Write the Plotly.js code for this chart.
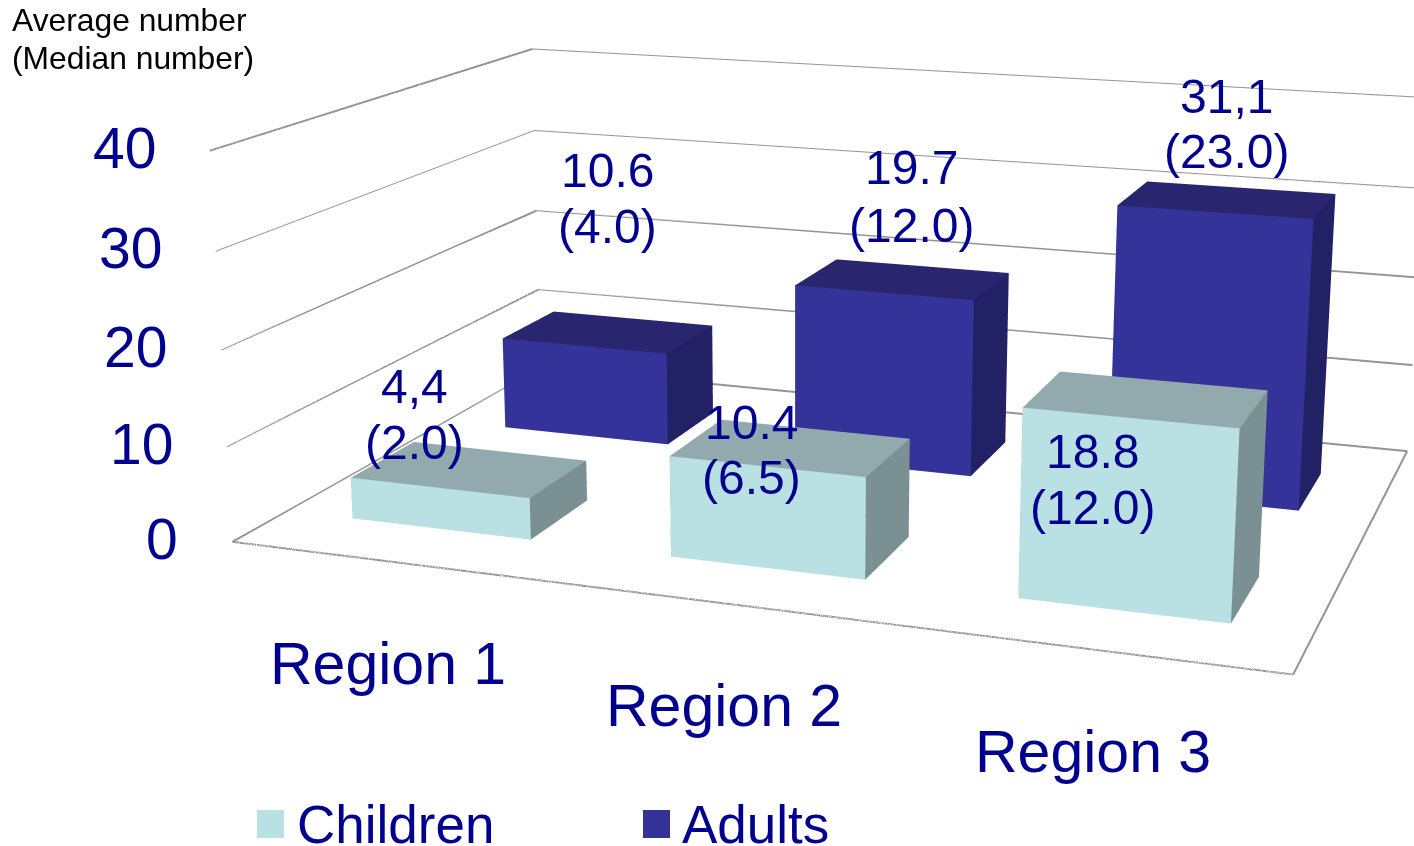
<!DOCTYPE html>
<html><head><meta charset="utf-8"><script src="https://cdn.plot.ly/plotly-3.0.1.min.js"></script>
<style>html,body{margin:0;padding:0;width:1414px;height:846px;overflow:hidden;background:#fff}
#chart{position:absolute;left:-324px;top:-746px;width:2248px;height:2248px}</style></head>
<body><div id="chart"></div>
<script>
// Values per region
const regions = ['Region 1', 'Region 2', 'Region 3'];
const childrenMean = [4.4, 10.4, 18.8];
const childrenMedian = [2.0, 6.5, 12.0];
const adultsMean = [10.6, 19.7, 31.1];
const adultsMedian = [4.0, 12.0, 23.0];
const childrenMeanText = ['4,4', '10.4', '18.8'];
const adultsMeanText = ['10.6', '19.7', '31,1'];
const zTicks = [0, 10, 20, 30, 40];

// The scene is larger than the window so that its lens is long and its centre sits off-middle
const SIZE = 2248, OFF_X = 324, OFF_Y = 746;
const px = x => (x + OFF_X) / SIZE;
const py = y => 1 - (y + OFF_Y) / SIZE;

const NAVY = '#00008f';
const LINE = '#949494';
const FONT = 'Liberation Sans, Arial, sans-serif';
const CHILD = {front: '#b9e0e3', top: '#92aaad', side: '#7a9092'};
const ADULT = {front: '#333399', top: '#29266f', side: '#232165'};
const HALF_W = 0.285, HALF_D = 0.19;
const CHILD_DEPTH = 0.99, ADULT_DEPTH = 1.98;
const X_RANGE = [0.5, 3.5], Y_RANGE = [0.5, 2.5], Z_RANGE = [0, 40];

function bar(xc, yc, h, c) {
  const xa = xc - HALF_W, xb = xc + HALF_W, ya = yc - HALF_D, yb = yc + HALF_D;
  return {
    type: 'mesh3d', hoverinfo: 'skip', flatshading: true,
    x: [xa, xb, xb, xa, xa, xb, xb, xa],
    y: [ya, ya, yb, yb, ya, ya, yb, yb],
    z: [0, 0, 0, 0, h, h, h, h],
    i: [0, 0, 4, 4, 0, 0, 1, 1, 2, 2, 3, 3],
    j: [1, 2, 5, 6, 1, 5, 2, 6, 3, 7, 0, 4],
    k: [2, 3, 6, 7, 5, 4, 6, 5, 7, 6, 4, 7],
    facecolor: [c.top, c.top, c.top, c.top, c.front, c.front, c.side, c.side, c.side, c.side, c.side, c.side],
    lighting: {ambient: 1, diffuse: 0, specular: 0, fresnel: 0, roughness: 1}
  };
}

const traces = [];
regions.forEach((_, i) => {
  traces.push(bar(i + 1, CHILD_DEPTH, childrenMean[i], CHILD));
  traces.push(bar(i + 1, ADULT_DEPTH, adultsMean[i], ADULT));
});
// Front and right edges of the floor
traces.push({
  type: 'scatter3d', mode: 'lines', hoverinfo: 'skip',
  x: [X_RANGE[0], X_RANGE[1], X_RANGE[1]],
  y: [Y_RANGE[0], Y_RANGE[0], Y_RANGE[1]],
  z: [0, 0, 0],
  line: {color: LINE, width: 4}
});
// Heavier gridlines along the left and back walls
zTicks.forEach(t => traces.push({
  type: 'scatter3d', mode: 'lines', hoverinfo: 'skip',
  x: [X_RANGE[0], X_RANGE[0], X_RANGE[1]],
  y: [Y_RANGE[0], Y_RANGE[1], Y_RANGE[1]],
  z: [t, t, t],
  line: {color: LINE, width: 4}
}));

const sceneNotes = [];
const note = (x, y, z, text, size, xshift, yshift, xanchor) => sceneNotes.push({
  x, y, z, text, showarrow: false, xshift, yshift, xanchor: xanchor || 'center', yanchor: 'middle',
  font: {family: FONT, size, color: NAVY}
});

zTicks.forEach(t => note(X_RANGE[0], Y_RANGE[0], t, String(t), 57, -52, 3, 'right'));
regions.forEach((r, i) => note(i + 1, Y_RANGE[0], 0, r, 59, -2, -102));

// Offsets of the two-line value labels from the top of their bars
const childShift = [[-55, 83, 27], [-40, 25, -30], [-54, -53, -109]];
const adultShift = [[-1, 161, 105], [9, 112, 54], [-1, 103, 48]];
regions.forEach((_, i) => {
  const c = childShift[i], a = adultShift[i];
  note(i + 1, CHILD_DEPTH, childrenMean[i], childrenMeanText[i], 48, c[0], c[1]);
  note(i + 1, CHILD_DEPTH, childrenMean[i], '(' + childrenMedian[i].toFixed(1) + ')', 48, c[0], c[2]);
  note(i + 1, ADULT_DEPTH, adultsMean[i], adultsMeanText[i], 48, a[0], a[1]);
  note(i + 1, ADULT_DEPTH, adultsMean[i], '(' + adultsMedian[i].toFixed(1) + ')', 48, a[0], a[2]);
});

const pageText = (x, y, text, size, color) => ({
  xref: 'paper', yref: 'paper', x: px(x), y: py(y), text, showarrow: false,
  xanchor: 'left', yanchor: 'middle', font: {family: FONT, size, color}
});
const swatch = (x0, x1, y0, y1, color) => ({
  type: 'rect', xref: 'paper', yref: 'paper', x0: px(x0), x1: px(x1), y0: py(y1), y1: py(y0),
  fillcolor: color, line: {width: 0}
});

const hiddenAxis = {showgrid: false, zeroline: false, showticklabels: false, showline: false, ticks: '',
  showspikes: false, showbackground: false, title: {text: ''}};

Plotly.newPlot('chart', traces, {
  width: SIZE, height: SIZE, margin: {l: 0, r: 0, t: 0, b: 0}, showlegend: false,
  paper_bgcolor: '#fff',
  annotations: [
    pageText(10, 20, 'Average number', 31.8, '#000'),
    pageText(10, 58, '(Median number)', 31.8, '#000'),
    pageText(295, 824, 'Children', 53, NAVY),
    pageText(680, 824, 'Adults', 53, NAVY)
  ],
  shapes: [swatch(257, 284, 810, 838, CHILD.front), swatch(643, 670, 810, 838, ADULT.front)],
  scene: {
    domain: {x: [0, 1], y: [0, 1]},
    aspectmode: 'manual', aspectratio: {x: 2, y: 1.358, z: 0.747},
    camera: {
      eye: {x: 1.662, y: -4.880, z: 1.262},
      center: {x: -0.084, y: -0.066, z: -0.125},
      up: {x: 0, y: 0, z: 1},
      projection: {type: 'perspective'}
    },
    xaxis: Object.assign({}, hiddenAxis, {range: X_RANGE}),
    yaxis: Object.assign({}, hiddenAxis, {range: Y_RANGE}),
    zaxis: Object.assign({}, hiddenAxis, {range: Z_RANGE, showgrid: true, tickvals: zTicks,
      gridcolor: LINE, gridwidth: 2}),
    annotations: sceneNotes
  }
}, {displayModeBar: false});
</script></body></html>
